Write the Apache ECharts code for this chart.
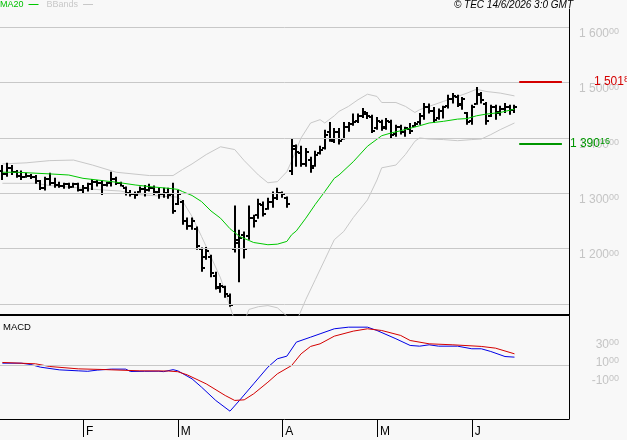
<!DOCTYPE html>
<html>
<head>
<meta charset="utf-8">
<script src="https://cdn.jsdelivr.net/npm/echarts@6/dist/echarts.min.js"></script>
<style>
  html, body { margin: 0; padding: 0; background: #f8f8f8; }
  #chart { width: 627px; height: 440px; }
</style>
</head>
<body>
<div id="chart"></div>
<script>
// daily bars, 8 Jan -> 12 Jun 2026 (index 0..108), slots up to 119 leave the empty right margin
const slotCount = 120
const monthStarts = [17, 37, 59, 79, 99]
const monthLetters = ['F', 'M', 'A', 'M', 'J']

const opens = [1340, 1335, 1345, 1338, 1332, 1330, 1332, 1330, 1322, 1310, 1325, 1318, 1315, 1314, 1316, 1312, 1316, 1306, 1310, 1316,
  1320, 1318, 1315, 1318, 1325, 1318, 1310, 1300, 1298, 1302, 1308, 1305, 1310, 1302, 1298, 1300, 1298, 1280, 1285, 1250,
  1240, 1235, 1200, 1185, 1185, 1150, 1128, 1130, 1115, 1200, 1215, 1225, 1222, 1255, 1260, 1278, 1272, 1285, 1292, 1300,
  1292, 1340, 1380, 1372, 1352, 1360, 1350, 1372, 1382, 1410, 1396, 1410, 1398, 1420, 1426, 1430, 1440, 1444, 1438, 1418,
  1428, 1420, 1428, 1408, 1420, 1410, 1416, 1422, 1428, 1440, 1455, 1448, 1436, 1448, 1458, 1470, 1474, 1462, 1445, 1430,
  1462, 1478, 1462, 1440, 1455, 1446, 1452, 1455, 1450]
const highs = [1351, 1355, 1351, 1342, 1341, 1337, 1335, 1333, 1324, 1330, 1337, 1328, 1321, 1319, 1319, 1319, 1319, 1315, 1319, 1326,
  1324, 1324, 1321, 1339, 1330, 1321, 1312, 1306, 1303, 1312, 1315, 1317, 1314, 1310, 1310, 1310, 1319, 1306, 1288, 1256,
  1256, 1240, 1202, 1203, 1189, 1158, 1138, 1133, 1119, 1278, 1234, 1231, 1278, 1261, 1290, 1285, 1292, 1303, 1310, 1303,
  1294, 1400, 1388, 1386, 1382, 1366, 1377, 1386, 1415, 1429, 1418, 1418, 1429, 1429, 1444, 1444, 1454, 1447, 1442, 1438,
  1433, 1436, 1433, 1424, 1424, 1420, 1427, 1429, 1445, 1463, 1462, 1456, 1453, 1458, 1478, 1481, 1478, 1474, 1447, 1460,
  1492, 1483, 1465, 1460, 1460, 1458, 1463, 1460, 1460]
const lows = [1324, 1330, 1333, 1328, 1324, 1328, 1326, 1317, 1306, 1305, 1314, 1310, 1310, 1308, 1308, 1310, 1303, 1299, 1303, 1306,
  1312, 1297, 1312, 1312, 1315, 1312, 1296, 1294, 1290, 1301, 1294, 1303, 1297, 1290, 1292, 1290, 1263, 1279, 1243, 1234,
  1234, 1198, 1158, 1180, 1148, 1126, 1120, 1111, 1095, 1193, 1139, 1182, 1216, 1238, 1254, 1258, 1270, 1274, 1288, 1292,
  1274, 1333, 1348, 1348, 1348, 1337, 1348, 1370, 1379, 1393, 1391, 1388, 1397, 1411, 1422, 1427, 1436, 1434, 1409, 1415,
  1413, 1415, 1400, 1402, 1406, 1402, 1407, 1420, 1424, 1433, 1444, 1427, 1433, 1435, 1453, 1462, 1456, 1451, 1424, 1424,
  1460, 1462, 1424, 1438, 1433, 1440, 1445, 1442, 1445]
const closes = [1335, 1345, 1338, 1332, 1330, 1332, 1330, 1322, 1310, 1325, 1318, 1315, 1314, 1316, 1312, 1316, 1306, 1310, 1316, 1320,
  1318, 1315, 1318, 1325, 1318, 1314, 1300, 1298, 1296, 1308, 1305, 1310, 1302, 1298, 1300, 1296, 1268, 1298, 1250, 1240,
  1250, 1205, 1165, 1195, 1155, 1130, 1132, 1118, 1098, 1210, 1220, 1200, 1255, 1250, 1280, 1262, 1285, 1292, 1300, 1298,
  1280, 1385, 1375, 1352, 1375, 1345, 1370, 1378, 1405, 1395, 1410, 1395, 1420, 1425, 1428, 1440, 1446, 1440, 1412, 1430,
  1418, 1430, 1405, 1420, 1410, 1418, 1412, 1426, 1440, 1455, 1448, 1432, 1448, 1455, 1470, 1475, 1460, 1470, 1428, 1455,
  1480, 1468, 1430, 1455, 1445, 1452, 1455, 1450, 1455]

// indicator lines as [bar index, value]
const ma20 = [[0, 1338], [3, 1338], [10, 1335], [14, 1333], [17, 1327], [21, 1323], [24, 1320], [28, 1315], [31, 1312], [35, 1309],
  [37, 1307], [38, 1303], [40, 1296], [42, 1285], [44, 1268], [46, 1255], [48, 1236], [50, 1222], [53, 1211], [56, 1207],
  [58, 1208], [60, 1213], [61, 1225], [62, 1232], [64, 1255], [66, 1280], [68, 1303], [70, 1327], [71, 1333], [74, 1357],
  [77, 1385], [80, 1404], [82, 1409], [84, 1413], [88, 1422], [90, 1427], [93, 1430], [96, 1434], [98, 1435], [100, 1440],
  [102, 1443], [105, 1446], [108, 1452]]
const bbUpper = [[0, 1353], [5, 1355], [10, 1359], [15, 1360], [19, 1351], [24, 1338], [31, 1332], [36, 1332], [38, 1343], [40, 1353],
  [43, 1370], [46, 1384], [49, 1379], [51, 1359], [54, 1333], [56, 1319], [58, 1321], [60, 1339], [61, 1358], [63, 1400],
  [65, 1427], [67, 1433], [68, 1427], [70, 1440], [71, 1448], [73, 1457], [75, 1469], [77, 1479], [79, 1475], [80, 1464],
  [83, 1464], [85, 1457], [87, 1446], [88, 1451], [90, 1457], [93, 1466], [96, 1475], [98, 1481], [100, 1488], [102, 1484],
  [105, 1481], [108, 1476]]
const bbLower = [[0, 1318], [7, 1318], [10, 1314], [17, 1309], [21, 1306], [25, 1304], [28, 1298], [35, 1294], [37, 1293], [38, 1286],
  [40, 1258], [42, 1222], [44, 1185], [46, 1147], [47, 1122], [48, 1095], [50, 1045], [52, 1090], [54, 1095], [56, 1097],
  [58, 1093], [60, 1078], [62, 1068], [64, 1108], [66, 1144], [68, 1180], [70, 1216], [72, 1231], [74, 1256], [77, 1288],
  [79, 1324], [80, 1346], [83, 1351], [85, 1370], [87, 1394], [88, 1400], [90, 1398], [93, 1397], [96, 1395], [99, 1397],
  [101, 1398], [103, 1406], [105, 1415], [108, 1427]]
const macdLine = [[0, 2], [4, 2], [6, 0.5], [8, -2.4], [12, -5.4], [16, -6.5], [18, -7], [20, -5.7], [23, -4.6], [26, -4.6],
  [27, -7.2], [30, -7], [33, -6.9], [34, -7.4], [36, -5.2], [37, -6.5], [40, -15.4], [42, -24.6], [45, -39.4], [48, -51.3],
  [50, -39.4], [53, -20.9], [56, -2.4], [58, 6.9], [60, 9.8], [62, 25.4], [65, 30.9], [67, 34.6], [70, 40.2], [73, 42],
  [77, 42], [79, 38.3], [83, 29.1], [86, 21.7], [88, 20.9], [90, 22.4], [92, 20.9], [96, 20.9], [99, 18], [101, 18],
  [103, 15], [106, 9.4], [108, 8.7]]
const signalLine = [[0, 2.8], [7, 1.3], [10, -1.7], [16, -4.3], [21, -5], [29, -6.5], [35, -6.7], [37, -7.5], [39, -11], [43, -21],
  [47, -33.9], [49, -39.4], [51, -38.7], [53, -32], [56, -19.1], [58, -9.8], [61, -0.6], [63, 12.4], [65, 20.6], [67, 23.5],
  [70, 32], [74, 37.6], [77, 40.2], [80, 38.3], [84, 32.8], [86, 27.2], [90, 23.5], [95, 22.4], [101, 20.6], [104, 18.7],
  [108, 12.4]]

const priceGrid = [1100, 1200, 1300, 1400, 1500, 1600]
const priceLabels = [1200, 1300, 1400, 1500, 1600]
const macdLabels = [30, 10, -10]
const resistance = 1501.8
const support = 1390.16

const FONT = '"Liberation Sans", Arial, sans-serif'
const LABEL_GREY = '#c4c4c4'

const categories = []
for (let i = 0; i < slotCount; i++) categories.push(String(i))
const ohlc = opens.map((o, i) => [i, o, highs[i], lows[i], closes[i]])

function thousands (v) {
  const s = String(Math.round(v))
  return s.length > 3 ? s.slice(0, s.length - 3) + ' ' + s.slice(-3) : s
}

const supRich = {
  m: { fontSize: 12, lineHeight: 13, fontFamily: FONT, color: LABEL_GREY },
  s: { fontSize: 9, lineHeight: 9, verticalAlign: 'top', fontFamily: FONT, color: LABEL_GREY }
}

function renderBar (params, api) {
  const idx = api.value(0)
  const pO = api.coord([idx, api.value(1)])
  const pH = api.coord([idx, api.value(2)])
  const pL = api.coord([idx, api.value(3)])
  const pC = api.coord([idx, api.value(4)])
  const x = Math.round(pH[0])
  return {
    type: 'group',
    children: [
      { type: 'rect', shape: { x: x - 1, y: pH[1], width: 2, height: Math.max(pL[1] - pH[1], 1) }, style: { fill: '#000' } },
      { type: 'rect', shape: { x: x - 3, y: Math.round(pO[1]) - 1, width: 2, height: 2 }, style: { fill: '#000' } },
      { type: 'rect', shape: { x: x + 1, y: Math.round(pC[1]) - 1, width: 2, height: 2 }, style: { fill: '#000' } }
    ]
  }
}

function levelLine (value, color, text, dec, dist) {
  return [
    {
      coord: [109, value],
      lineStyle: { color: color, width: 2, type: 'solid' },
      label: {
        show: true,
        position: 'end',
        distance: dist,
        formatter: '{m|' + text + '}{s|' + dec + '}',
        rich: {
          m: { fontSize: 12, lineHeight: 13, fontFamily: FONT, color: color },
          s: { fontSize: 9, lineHeight: 9, verticalAlign: 'top', fontFamily: FONT, color: color }
        }
      }
    },
    { coord: [118, value] }
  ]
}

const chart = echarts.init(document.getElementById('chart'))
chart.setOption({
  animation: false,
  backgroundColor: '#f8f8f8',
  textStyle: { fontFamily: FONT },
  legend: {
    left: 0,
    top: 0,
    padding: 0,
    align: 'right',
    icon: 'rect',
    itemGap: 8,
    itemWidth: 10,
    itemHeight: 1,
    selectedMode: false,
    textStyle: { fontSize: 9, fontFamily: FONT },
    data: [
      { name: 'MA20', textStyle: { color: '#00c000' } },
      { name: 'BBands', textStyle: { color: '#c8c8c8' } }
    ]
  },
  graphic: [
    { type: 'text', right: 54, top: 0, style: { text: '© TEC 14/6/2026 3:0 GMT', font: 'italic 10px ' + FONT, fill: '#000' } },
    { type: 'text', left: 3, top: 322, style: { text: 'MACD', font: '9.5px ' + FONT, fill: '#000' } }
  ],
  grid: [
    { left: 0, right: 58, top: 9, height: 306 },
    { left: 0, right: 58, top: 316, height: 103 }
  ],
  xAxis: [
    {
      gridIndex: 0,
      type: 'category',
      data: categories,
      axisLine: { onZero: false, lineStyle: { color: '#000', width: 2 } },
      axisTick: { show: false },
      axisLabel: { show: false },
      splitLine: { show: false }
    },
    {
      gridIndex: 1,
      type: 'category',
      data: categories,
      axisLine: { onZero: false, lineStyle: { color: '#000', width: 1 } },
      axisTick: {
        show: true,
        length: 18,
        alignWithLabel: true,
        interval: (idx) => monthStarts.indexOf(idx) >= 0,
        lineStyle: { color: '#000', width: 1 }
      },
      axisLabel: {
        interval: (idx) => monthStarts.indexOf(idx) >= 0,
        formatter: (val, idx) => {
          const k = monthStarts.indexOf(Number(val))
          return k >= 0 ? monthLetters[k] : ''
        },
        align: 'left',
        margin: 7,
        padding: [0, 0, 0, 3],
        fontSize: 12,
        color: '#000',
        fontFamily: FONT
      },
      splitLine: { show: false }
    }
  ],
  yAxis: [
    {
      gridIndex: 0,
      type: 'value',
      position: 'right',
      min: 1080,
      max: 1633,
      interval: 20,
      axisLine: { show: true, lineStyle: { color: '#000', width: 1 } },
      axisTick: { show: false },
      splitLine: { show: false },
      axisLabel: {
        margin: 50,
        align: 'right',
        verticalAlign: 'top',
        formatter: (v) => priceLabels.indexOf(Math.round(v)) >= 0 ? '{m|' + thousands(v) + '}{s|00}' : '',
        rich: supRich
      }
    },
    {
      gridIndex: 1,
      type: 'value',
      position: 'right',
      min: -60,
      max: 54.4,
      interval: 10,
      axisLine: { show: true, lineStyle: { color: '#000', width: 1 } },
      axisTick: { show: false },
      splitLine: { show: false },
      axisLabel: {
        margin: 50,
        align: 'right',
        verticalAlign: 'top',
        formatter: (v) => macdLabels.indexOf(Math.round(v)) >= 0 ? '{m|' + Math.round(v) + '}{s|00}' : '',
        rich: supRich
      }
    }
  ],
  series: [
    {
      name: 'BBands',
      type: 'line',
      xAxisIndex: 0,
      yAxisIndex: 0,
      data: bbUpper,
      symbol: 'none',
      z: 1,
      lineStyle: { color: '#c8c8c8', width: 1 },
      itemStyle: { color: '#c8c8c8' },
      markLine: {
        silent: true,
        symbol: 'none',
        label: { show: false },
        lineStyle: { color: '#c8c8c8', width: 1, type: 'solid' },
        data: priceGrid.map(v => ({ yAxis: v }))
      }
    },
    {
      name: 'BBands',
      type: 'line',
      xAxisIndex: 0,
      yAxisIndex: 0,
      data: bbLower,
      symbol: 'none',
      z: 1,
      lineStyle: { color: '#c8c8c8', width: 1 },
      itemStyle: { color: '#c8c8c8' }
    },
    {
      name: 'Bars',
      type: 'custom',
      xAxisIndex: 0,
      yAxisIndex: 0,
      renderItem: renderBar,
      encode: { x: 0, y: [1, 2, 3, 4] },
      data: ohlc,
      z: 2
    },
    {
      name: 'MA20',
      type: 'line',
      xAxisIndex: 0,
      yAxisIndex: 0,
      data: ma20,
      symbol: 'none',
      z: 3,
      lineStyle: { color: '#00c800', width: 1 },
      itemStyle: { color: '#00c800' },
      markLine: {
        silent: true,
        symbol: 'none',
        data: [
          levelLine(resistance, '#d40000', '1 501', '8', 32),
          levelLine(support, '#009600', '1 390', '16', 8)
        ]
      }
    },
    {
      name: 'MACD',
      type: 'line',
      xAxisIndex: 1,
      yAxisIndex: 1,
      data: macdLine,
      symbol: 'none',
      z: 3,
      lineStyle: { color: '#0000e6', width: 1 },
      markLine: {
        silent: true,
        symbol: 'none',
        label: { show: false },
        lineStyle: { color: '#c8c8c8', width: 1, type: 'solid' },
        data: [{ yAxis: 0 }]
      }
    },
    {
      name: 'Signal',
      type: 'line',
      xAxisIndex: 1,
      yAxisIndex: 1,
      data: signalLine,
      symbol: 'none',
      z: 4,
      lineStyle: { color: '#d40000', width: 1 }
    }
  ]
})
</script>
</body>
</html>
